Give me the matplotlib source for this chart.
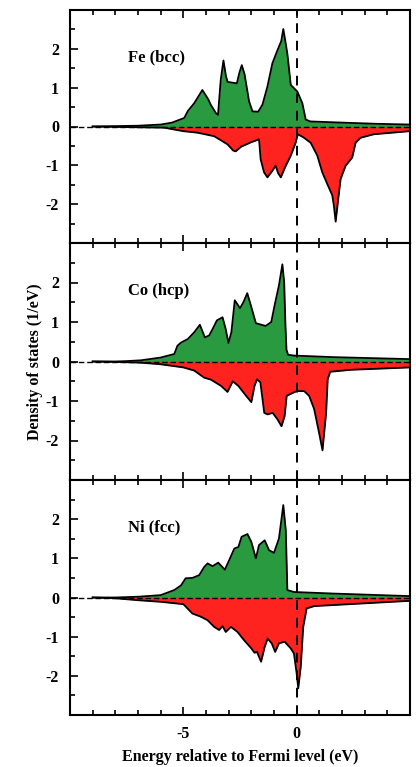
import matplotlib
matplotlib.use("Agg")
import matplotlib.pyplot as plt
import numpy as np
from matplotlib.ticker import MultipleLocator, FixedLocator

plt.rcParams['axes.unicode_minus'] = False
plt.rcParams['font.family'] = ['Liberation Serif', 'DejaVu Serif']

# ---------------- data (energy in eV, DOS in 1/eV) ----------------
panel_labels = ["Fe (bcc)", "Co (hcp)", "Ni (fcc)"]

fe_up_E = [-9.0, -8.0, -7.0, -6.0, -5.5, -4.96, -4.8, -4.52, -4.16, -3.9, -3.79, -3.57, -3.47, -3.35, -3.23,
           -3.12, -3.05, -2.64, -2.52, -2.42, -2.3, -2.2, -2.1, -1.95, -1.7, -1.51, -1.29, -1.07, -0.85,
           -0.68, -0.59, -0.5, -0.41, -0.26, 0.03, 0.25, 0.4, 0.6, 2.0, 3.5, 5.0]
fe_up = [0.0, 0.01, 0.02, 0.05, 0.1, 0.22, 0.4, 0.6, 0.94, 0.7, 0.56, 0.35, 0.3, 1.2, 1.7,
         1.3, 1.15, 1.11, 1.4, 1.58, 1.35, 1.0, 0.65, 0.39, 0.38, 0.56, 1.03, 1.63, 1.96,
         2.2, 2.51, 2.2, 1.87, 1.07, 0.9, 0.6, 0.18, 0.13, 0.1, 0.07, 0.05]

fe_dn_E = [-9.0, -8.0, -7.0, -5.85, -5.0, -4.37, -3.64, -3.05, -2.8, -2.69, -2.45, -2.03, -1.66, -1.59,
           -1.44, -1.29, -1.07, -0.93, -0.82, -0.7, -0.48, -0.26, -0.04, 0.05, 0.3, 0.62, 0.91, 1.13,
           1.35, 1.57, 1.64, 1.72, 1.82, 1.94, 2.16, 2.45, 2.6, 2.82, 3.4, 5.0]
fe_dn = [0.0, -0.01, -0.02, -0.03, -0.12, -0.16, -0.25, -0.46, -0.62, -0.64, -0.52, -0.41, -0.33, -0.84,
         -1.18, -1.31, -1.14, -1.01, -1.2, -1.31, -1.01, -0.75, -0.41, -0.2, -0.28, -0.42, -0.75, -1.18,
         -1.48, -1.77, -2.03, -2.45, -1.94, -1.35, -1.01, -0.8, -0.42, -0.29, -0.2, -0.12]

co_up_E = [-9.0, -8.0, -7.5, -6.87, -6.0, -5.4, -5.26, -5.1, -4.8, -4.52, -4.27, -4.05, -3.86, -3.71,
           -3.52, -3.27, -3.13, -3.01, -2.88, -2.73, -2.5, -2.35, -2.18, -2.0, -1.8, -1.37, -1.12, -0.97,
           -0.78, -0.63, -0.55, -0.5, -0.45, -0.38, -0.12, 1.64, 5.0]
co_up = [0.0, 0.0, 0.01, 0.03, 0.1, 0.19, 0.4, 0.48, 0.57, 0.74, 0.93, 0.61, 0.66, 0.82,
         1.04, 1.12, 0.82, 0.47, 0.74, 1.55, 1.35, 1.5, 1.73, 1.38, 0.97, 0.9, 1.0, 1.43,
         1.93, 2.46, 2.0, 1.0, 0.3, 0.17, 0.15, 0.11, 0.06]

co_dn_E = [-9.0, -8.0, -6.87, -6.0, -5.0, -4.52, -4.08, -3.78, -3.33, -3.05, -2.82, -2.57, -2.23, -2.0,
           -1.86, -1.75, -1.6, -1.43, -1.28, -1.06, -0.84, -0.67, -0.53, -0.44, -0.3, 0.0, 0.33, 0.55,
           0.77, 0.99, 1.14, 1.3, 1.37, 1.48, 2.4, 5.0]
co_dn = [0.0, -0.01, -0.03, -0.07, -0.15, -0.23, -0.41, -0.46, -0.62, -0.77, -0.5, -0.62, -0.87, -1.03,
         -0.62, -0.45, -0.53, -1.3, -1.34, -1.3, -1.47, -1.64, -1.38, -0.87, -0.83, -0.75, -0.75, -0.87,
         -1.2, -1.81, -2.25, -1.3, -0.45, -0.26, -0.21, -0.15]

ni_up_E = [-9.0, -8.0, -6.98, -6.0, -5.4, -5.1, -4.9, -4.6, -4.3, -4.08, -3.93, -3.71, -3.46, -3.17,
           -2.98, -2.75, -2.57, -2.43, -2.17, -2.0, -1.8, -1.66, -1.41, -1.22, -1.0, -0.78, -0.59, -0.48,
           -0.41, -0.12, 1.64, 5.0]
ni_up = [0.0, 0.0, 0.02, 0.06, 0.19, 0.31, 0.49, 0.5, 0.57, 0.78, 0.87, 0.8, 0.89, 0.71,
         0.95, 1.25, 1.29, 1.55, 1.62, 1.42, 1.0, 1.34, 1.46, 1.21, 1.14, 1.51, 2.36, 1.72,
         0.19, 0.14, 0.1, 0.035]

ni_dn_E = [-9.0, -8.0, -6.98, -6.0, -5.0, -4.6, -4.23, -3.93, -3.64, -3.42, -3.27, -3.13, -2.9, -2.61,
           -2.32, -2.0, -1.86, -1.75, -1.57, -1.41, -1.28, -1.1, -0.95, -0.78, -0.53, -0.26, -0.12, 0.0,
           0.07, 0.18, 0.29, 0.44, 0.77, 5.0]
ni_dn = [0.0, -0.02, -0.07, -0.11, -0.17, -0.41, -0.49, -0.58, -0.75, -0.83, -0.73, -0.88, -0.75, -0.88,
         -1.09, -1.3, -1.41, -1.39, -1.64, -1.26, -1.05, -1.17, -1.39, -1.17, -1.13, -1.3, -1.43, -1.94,
         -2.32, -1.77, -0.75, -0.28, -0.22, -0.085]

x_major = [-5, 0]
x_labels = ["-5", "0"]
y_major = [-2, -1, 0, 1, 2]
y_labels = ["-2", "-1", "0", "1", "2"]

panels = [(fe_up_E, fe_up, fe_dn_E, fe_dn),
          (co_up_E, co_up, co_dn_E, co_dn),
          (ni_up_E, ni_up, ni_dn_E, ni_dn)]

GREEN = '#2a9a40'
RED = '#ff2320'

fig = plt.figure(figsize=(4.16, 7.67), dpi=100)
left, width = 70 / 416, 340 / 416
bottoms = [524 / 767, 287 / 767, 52 / 767]
heights = [233 / 767, 237 / 767, 235 / 767]

for i, (uE, u, dE, d) in enumerate(panels):
    ax = fig.add_axes([left, bottoms[i], width, heights[i]])
    ax.fill_between(uE, 0, u, color=GREEN, lw=0, zorder=1)
    ax.fill_between(dE, 0, d, color=RED, lw=0, zorder=1)
    ax.plot(uE, u, color='black', lw=1.3, zorder=2)
    ax.plot(dE, d, color='black', lw=1.3, zorder=2)
    ax.axhline(0, color='black', lw=1.0, ls=(0, (4, 2)), zorder=3)
    ax.axvline(0, color='black', lw=1.4, ls=(0, (5, 4)), zorder=3)
    ax.set_xlim(-10, 5)
    ax.set_ylim(-3, 3)
    ax.xaxis.set_major_locator(FixedLocator(x_major))
    ax.xaxis.set_minor_locator(MultipleLocator(1))
    ax.yaxis.set_major_locator(FixedLocator(y_major))
    ax.yaxis.set_minor_locator(MultipleLocator(0.5))
    ax.set_yticklabels(y_labels, fontsize=11.5, fontweight='bold')
    if i == 2:
        ax.set_xticklabels(x_labels, fontsize=11.5, fontweight='bold')
    else:
        ax.set_xticklabels([])
    if i == 1:
        ax.set_ylabel("Density of states (1/eV)", fontsize=11.5, fontweight='bold', labelpad=2)
    ax.tick_params(which='both', direction='in', top=True, right=False, width=1.2)
    ax.tick_params(which='major', length=6, pad=8)
    ax.tick_params(which='minor', length=3.5)
    for s in ax.spines.values():
        s.set_linewidth(1.5)
    ax.text(-7.45, 1.78, panel_labels[i], fontsize=12, fontweight='bold', va='center', ha='left')

fig.text(240 / 416, 10 / 767, "Energy relative to Fermi level (eV)", fontsize=11.5,
         fontweight='bold', ha='center', va='center')

fig.savefig("out.png", dpi=100)
